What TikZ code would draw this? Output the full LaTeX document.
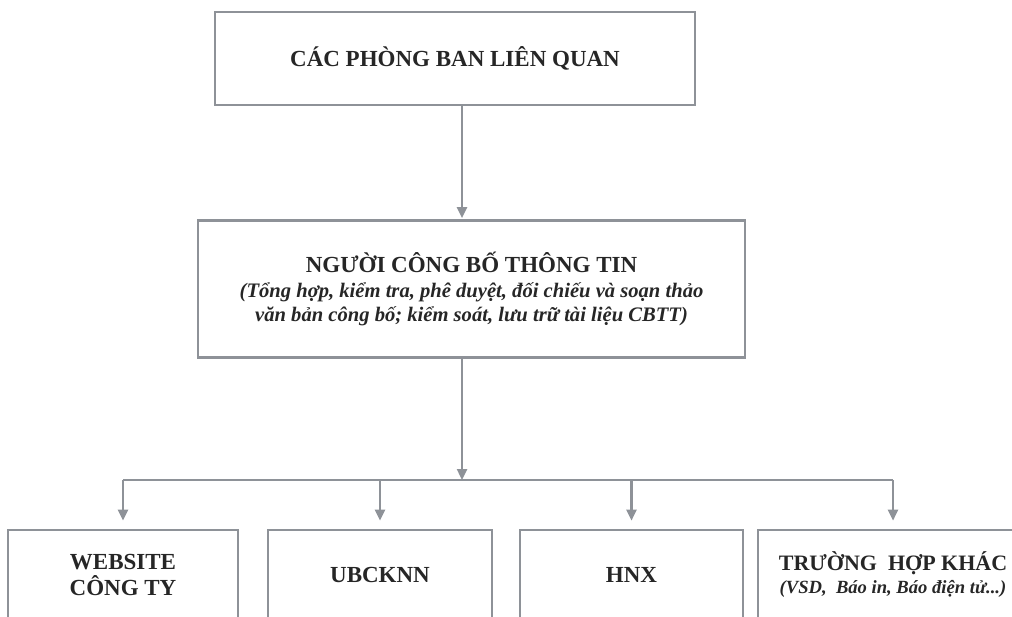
\documentclass[tikz,border=0pt]{standalone}
\usepackage{fontspec}
\setmainfont{Liberation Serif}
\usepackage{xcolor}
\definecolor{framegray}{RGB}{142, 146, 152}
\definecolor{textdark}{RGB}{38, 38, 38}
\usetikzlibrary{arrows.meta, positioning, calc}

\begin{document}
\begin{tikzpicture}[x=1pt, y=-1pt, >={Triangle[width=10pt, length=11pt]},
    box/.style={draw=framegray, line width=2.6pt, text=textdark, align=center, inner sep=0pt,
        font=\bfseries\fontsize{23}{26}\selectfont},
    note/.style={font=\bfseries\itshape\fontsize{#1}{24.5}\selectfont},
    link/.style={draw=framegray, line width=2.4pt}]
    \useasboundingbox (0, 0) rectangle (1012, 617);
    \clip (0, 0) rectangle (1012, 617);

    % upper levels
    \node[box, minimum width=480pt, minimum height=93pt] (phongban) at (455, 58.5)
        {CÁC PHÒNG BAN LIÊN QUAN};
    \node[box, note=20.6, minimum width=547pt, minimum height=137pt] (cbtt) at (471.5, 289)
        {{\upshape\fontsize{23}{24.5}\selectfont NGƯỜI CÔNG BỐ THÔNG TIN}\\
         (Tổng hợp, kiểm tra, phê duyệt, đối chiếu và soạn thảo\\
         văn bản công bố; kiểm soát, lưu trữ tài liệu CBTT)};

    % receivers
    \node[box, minimum width=230pt, minimum height=90pt] (website) at (123, 575)
        {WEBSITE\\ CÔNG TY};
    \node[box, minimum width=224pt, minimum height=90pt] (ubcknn) at (380, 575)
        {UBCKNN};
    \node[box, minimum width=223pt, minimum height=90pt] (hnx) at (631.5, 575)
        {HNX};
    \node[box, note=18.6, minimum width=270pt, minimum height=90pt] (khac) at (893, 575)
        {{\upshape\fontsize{22}{23}\selectfont TRƯỜNG \ HỢP KHÁC}\\[-1.5pt]
         (VSD, \ Báo in, Báo điện tử...)};

    % connectors
    \coordinate (hub) at (462, 480);
    \draw[link, ->, shorten >=1pt] (phongban.south -| hub) -- (cbtt.north -| hub);
    \draw[link, ->] (cbtt.south -| hub) -- (hub);
    \draw[link] (hub -| website.north) -- (hub -| khac.north);
    \foreach \n in {website, ubcknn, hnx, khac}
        \draw[link, ->, shorten >=8pt] (hub -| \n.north) -- (\n.north);
\end{tikzpicture}
\end{document}
